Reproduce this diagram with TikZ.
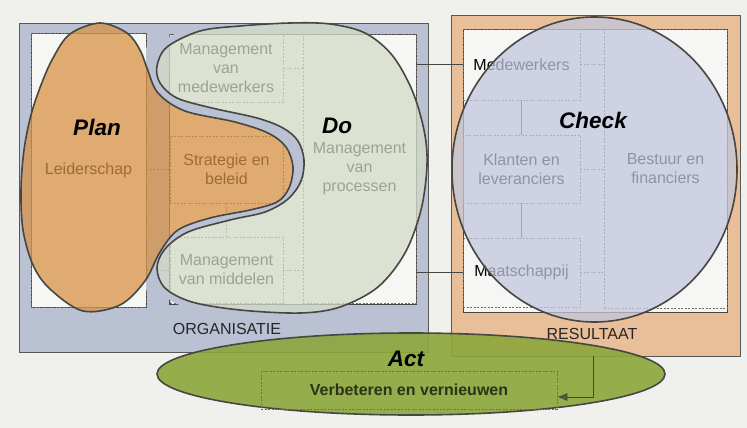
\documentclass[tikz,border=0pt]{standalone}
\usepackage{fontspec}
\setmainfont{Liberation Sans}
\usetikzlibrary{arrows.meta}

\definecolor{paper}{RGB}{240,240,237}
\definecolor{orgfill}{RGB}{186,193,211}
\definecolor{resfill}{RGB}{232,191,152}
\definecolor{boxwhite}{RGB}{246,246,244}
\definecolor{edge}{RGB}{70,70,66}
\definecolor{dashgray}{RGB}{110,110,105}
\definecolor{planfill}{RGB}{215,145,68}
\definecolor{dofill}{RGB}{212,220,199}
\definecolor{checkfill}{RGB}{194,198,220}
\definecolor{actfill}{RGB}{140,166,58}
\definecolor{verbtext}{RGB}{45,50,25}

% outlines of the Plan and Do areas
\newcommand{\planoutline}{plot[smooth cycle, tension=0.55] coordinates {
  (100,23) (127,33) (140,50) (147,68) (158,93) (185,111) (235,122) (268,133)
  (286,147) (293,167) (289,188) (277,202) (250,210) (210,218) (178,230)
  (160,252) (145,281) (120,305) (83,311) (50,289) (33,265) (23,230)
  (21,190) (24,150) (31,115) (41,85) (53,58) (70,34)}}
\newcommand{\dooutline}{plot[smooth cycle, tension=0.55] coordinates {
  (200,31) (240,26) (290,23) (330,24) (365,33) (392,55) (412,90) (424,130)
  (427,165) (421,210) (405,253) (378,287) (340,307) (300,313) (240,310)
  (192,302) (165,288) (157,268) (165,249) (188,232) (230,220) (265,212)
  (288,199) (301,181) (304,160) (298,141) (283,128) (257,118) (212,108)
  (177,98) (160,83) (157,66) (167,47)}}

\tikzset{
  zone/.style={draw=dashgray!80!black, line width=0.6pt},
  whitebox/.style={draw=edge, fill=boxwhite, line width=0.8pt},
  dbox/.style={draw=dashgray, dash pattern=on 2pt off 1.5pt, line width=0.6pt,
    align=center, inner sep=0pt, text=black,
    font=\fontsize{16}{19}\selectfont},
  link/.style={draw=dashgray, dash pattern=on 2pt off 1.5pt, line width=0.6pt},
  solidlink/.style={draw=edge, line width=0.8pt},
  blob/.style={draw=edge, line width=1.6pt, fill opacity=0.74},
  phase/.style={font=\fontsize{22.5}{24}\selectfont\bfseries\itshape, text=black},
  zonelabel/.style={font=\fontsize{16}{18}\selectfont, text=black!85},
  arr/.style={draw=edge, line width=1pt, -{Latex[length=10pt,width=8pt,fill=actfill!60!black]}}
}

\begin{document}
\begin{tikzpicture}[x=1pt,y=-1pt]
\useasboundingbox (0,0) rectangle (747,428);
\fill[paper] (0,0) rectangle (747,428);

% two main areas
\node[zone, fill=orgfill, minimum width=409pt, minimum height=329pt, inner sep=0pt] (org) at (223.5,187.5) {};
\node[zone, fill=resfill, minimum width=289pt, minimum height=341pt, inner sep=0pt] (res) at (595.5,185.5) {};

% white panels
\node[whitebox, minimum width=115pt, minimum height=274pt, inner sep=0pt] (wleft) at (88.5,170) {};
\node[whitebox, minimum width=247pt, minimum height=270pt, inner sep=0pt] (wmid) at (292.5,169) {};
\node[whitebox, minimum width=264pt, minimum height=283pt, inner sep=0pt] (wright) at (595,170.5) {};

% organisation boxes
\node[dbox, minimum width=115pt, minimum height=274pt] (leid) at (88.5,170) {Leiderschap};
\node[dbox, minimum width=114pt, minimum height=68pt] (mmed) at (226,68) {Management\\van\\medewerkers};
\node[dbox, minimum width=113pt, minimum height=67pt] (strat) at (226.5,169.5) {Strategie en\\beleid};
\node[dbox, minimum width=113pt, minimum height=66pt] (mmid) at (226.5,270) {Management\\van middelen};
\node[dbox, minimum width=113pt, minimum height=269pt] (proc) at (359.5,168.5) {Management\\van\\processen};

% result boxes
\node[dbox, minimum width=117pt, minimum height=71pt] (rmed) at (521.5,64.5) {Medewerkers};
\node[dbox, minimum width=117pt, minimum height=68pt] (klant) at (521.5,169) {Klanten en\\leveranciers};
\node[dbox, minimum width=117pt, minimum height=69pt] (maat) at (521.5,272.5) {Maatschappij};
\node[dbox, minimum width=123pt, minimum height=279pt] (best) at (665.5,168.5) {Bestuur en\\financiers};

% links inside the organisation
\draw[link] (leid.east |- strat.west) -- (strat.west);
\draw[link] (leid.east |- mmid.west) -- (mmid.west);
\draw[link] (strat.south) -- (mmid.north);
\draw[link] (mmed.east) -- (mmed.east -| proc.west);
\draw[link] (mmid.east) -- (mmid.east -| proc.west);

% links inside the result
\draw[link] (rmed.east) -- (rmed.east -| best.west);
\draw[link] (klant.east) -- (klant.east -| best.west);
\draw[link] (maat.east) -- (maat.east -| best.west);
\draw[solidlink] (rmed.south) -- (klant.north);
\draw[solidlink] (klant.south) -- (maat.north);

% links from the organisation to the result
\draw[solidlink] (proc.east |- rmed.west) -- (rmed.west);
\draw[solidlink] (proc.east |- maat.west) -- (maat.west);

% gap band between Plan and Do (kept outside both areas)
\begin{scope}[even odd rule]
  \clip (0,0) rectangle (747,428) \planoutline;
  \clip (0,0) rectangle (747,428) \dooutline;
  \clip (146,33) rectangle (312,305);
  \draw[orgfill, line width=14pt] \planoutline;
  \draw[orgfill, line width=14pt] \dooutline;
\end{scope}

% Plan
\draw[blob, fill=planfill] \planoutline;

% Do
\draw[blob, fill=dofill] \dooutline;

% Check
\draw[blob, fill=checkfill] (594.5,169.5) ellipse [x radius=142.5pt, y radius=152.5pt];

% phase labels
\node[phase] (plan) at (97,127) {Plan};
\node[phase] (do) at (337,126) {Do};
\node[phase] (check) at (593,120) {Check};

% area labels
\node[zonelabel] (orglabel) at (227,329) {ORGANISATIE};
\node[zonelabel] (reslabel) at (592,334) {RESULTAAT};

% Act
\draw[draw=edge, line width=1.6pt, fill=actfill, fill opacity=0.9] (411,374) ellipse [x radius=254pt, y radius=41pt];
\node[phase] (act) at (406,359) {Act};
\node[draw=verbtext!70, dash pattern=on 2pt off 1.5pt, line width=0.6pt,
      minimum width=296pt, minimum height=38pt, inner sep=0pt,
      font=\fontsize{16}{18}\selectfont\bfseries, text=verbtext] (verb) at (409,390) {Verbeteren en vernieuwen};

\coordinate (resbot) at (593,356);
\draw[arr] (resbot) |- ([yshift=-7pt]verb.east);
\end{tikzpicture}
\end{document}
